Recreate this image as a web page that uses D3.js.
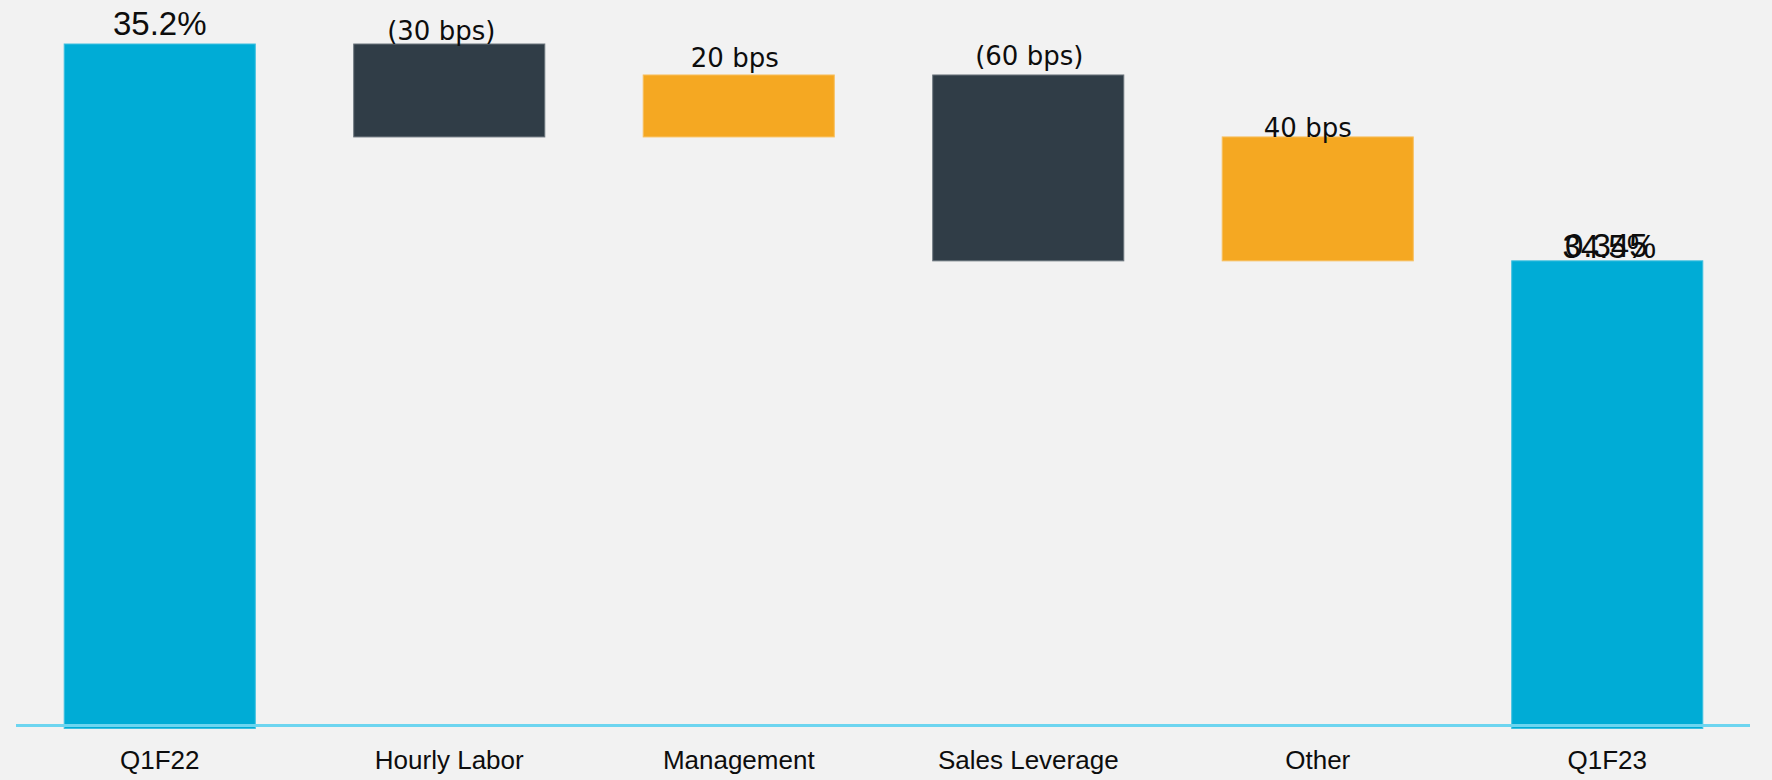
<!DOCTYPE html>
<html>
<head>
<meta charset="utf-8">
<script src="https://cdn.jsdelivr.net/npm/d3@7"></script>
<style>
    body { margin: 0; background: #f2f2f2; }
    svg { display: block; }
    .cat-label { font-family: "Liberation Sans", Arial, sans-serif; font-size: 26px; fill: #0d0d0d; }
    .total-label { font-family: "Liberation Sans", Arial, sans-serif; font-size: 33px; fill: #0d0d0d; }
    .step-label { font-family: "DejaVu Sans", sans-serif; font-size: 26px; fill: #0d0d0d; }
</style>
</head>
<body>
<div id="chart-area"><svg></svg></div>
<script>
const chartSize = { width: 1772, height: 780 };

// waterfall values, in % gross margin
const categories = ['Q1F22', 'Hourly Labor', 'Management', 'Sales Leverage', 'Other', 'Q1F23'];
const barLow = [33.0, 34.9, 34.9, 34.5, 34.5, 33.0];
const barHigh = [35.2, 35.2, 35.1, 35.1, 34.9, 34.5];
const barKind = ['total', 'decrease', 'increase', 'decrease', 'increase', 'total'];
const valueLabels = ['35.2%', '(30 bps)', '20 bps', '(60 bps)', '40 bps', '34.5%'];
const rawEndLabel = '0.345';

const colors = { total: '#00acd6', decrease: '#303d47', increase: '#f5a822' };
const strokes = { total: '#3fc0e0', decrease: '#6b757d', increase: '#f8c060' };
// small hand nudges [dx, dy] for the value labels
const labelNudge = [[0, -9], [-8, -4], [-4, -8], [1, -10], [-10, 0], [2, -3]];

const drawChart = () => {
    const svg = d3.select('#chart-area svg')
        .attr('width', chartSize.width)
        .attr('height', chartSize.height);

    svg.append('rect')
        .attr('width', chartSize.width)
        .attr('height', chartSize.height)
        .attr('fill', '#f2f2f2');

    const x = d3.scaleBand()
        .domain(categories)
        .range([15, 1752])
        .paddingInner(0.34)
        .paddingOuter(0.17);

    const y = d3.scaleLinear()
        .domain([33, 35.2])
        .range([725.5, 44]);

    const rows = categories.map((c, i) => ({
        cat: c, low: barLow[i], high: barHigh[i], kind: barKind[i], label: valueLabels[i], i
    }));

    const g = svg.append('g').attr('class', 'bars');

    g.selectAll('rect.bar')
        .data(rows)
        .enter()
        .append('rect')
        .attr('class', 'bar')
        .attr('x', d => x(d.cat))
        .attr('width', x.bandwidth())
        .attr('y', d => y(d.high))
        .attr('height', d => y(d.low) - y(d.high) + (d.kind == 'total' ? 3 : 0))
        .attr('fill', d => colors[d.kind])
        .attr('stroke', d => strokes[d.kind])
        .attr('stroke-width', 1);

    // category axis, no domain line
    const axis = d3.axisBottom(x).tickSize(0).tickPadding(25);
    const axisG = svg.append('g')
        .attr('class', 'x-axis')
        .attr('transform', `translate(0,${y(33)})`)
        .call(axis);
    axisG.select('.domain').remove();
    axisG.selectAll('text')
        .attr('class', 'cat-label')
        .attr('font-family', null)
        .attr('font-size', null)
        .attr('fill', null);

    svg.append('line')
        .attr('x1', 16)
        .attr('x2', 1750)
        .attr('y1', y(33))
        .attr('y2', y(33))
        .attr('stroke', '#6dd5f0')
        .attr('stroke-width', 3);

    const labels = svg.append('g').attr('class', 'value-labels');
    labels.selectAll('text')
        .data(rows)
        .enter()
        .append('text')
        .attr('class', d => d.kind == 'total' ? 'total-label' : 'step-label')
        .attr('text-anchor', 'middle')
        .attr('x', d => x(d.cat) + x.bandwidth() / 2 + labelNudge[d.i][0])
        .attr('y', d => y(d.high) + labelNudge[d.i][1])
        .text(d => d.label);

    // the source slide has the raw value overprinted on the end label
    const last = rows[rows.length - 1];
    labels.append('text')
        .attr('class', 'total-label')
        .attr('text-anchor', 'middle')
        .attr('x', x(last.cat) + x.bandwidth() / 2 + labelNudge[last.i][0] - 3)
        .attr('y', y(last.high) + labelNudge[last.i][1] - 1)
        .text(rawEndLabel);
};

window.onload = drawChart;
</script>
</body>
</html>
